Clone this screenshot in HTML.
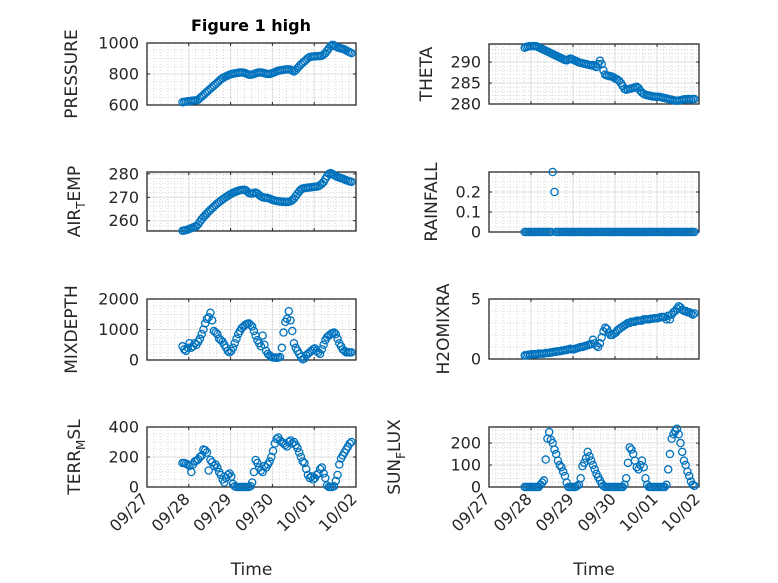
<!DOCTYPE html>
<html><head><meta charset="utf-8"><style>
html,body{margin:0;padding:0;background:#fff;}
svg{display:block;font-family:"DejaVu Sans","Liberation Sans",sans-serif;}
</style></head><body>
<svg id="fig" width="778" height="583" viewBox="0 0 778 583">
<rect x="0" y="0" width="778" height="583" fill="#fff"/>
<text x="251" y="31" text-anchor="middle" font-weight="bold" font-size="16" fill="#000">Figure 1 high</text>
</svg>
<script>
const xTickLabels = ["09/27","09/28","09/29","09/30","10/01","10/02"];
const pressure = [618,620,622,624,625,627,628,629,630,634,644,654,664,675,685,695,705,715,725,735,745,755,765,773,780,785,790,795,799,802,804,806,808,810,810,809,806,800,796,795,797,800,804,808,810,810,808,805,802,800,800,803,807,812,817,821,823,825,827,829,830,830,828,822,816,825,838,850,862,872,882,892,902,909,912,913,914,915,915,916,918,925,935,950,965,978,988,985,978,972,968,965,962,958,952,945,940,935];
const theta = [293.4,293.6,293.7,293.8,293.8,293.8,293.8,293.7,293.5,293.3,293.1,292.9,292.7,292.5,292.3,292.1,291.9,291.7,291.5,291.3,291.1,290.9,290.7,290.5,290.4,290.6,290.8,290.7,290.5,290.3,290.1,289.9,289.8,289.7,289.6,289.5,289.4,289.3,289.2,289.3,289.0,288.8,289.5,290.3,289.5,288.0,287.0,286.8,286.7,286.6,286.5,286.3,286.0,285.8,285.5,285.0,284.3,283.6,283.4,283.5,283.6,283.7,283.8,284.0,284.1,283.8,283.2,282.7,282.4,282.2,282.1,282.0,281.9,281.8,281.8,281.7,281.7,281.7,281.6,281.5,281.4,281.3,281.2,281.1,281.0,280.9,280.8,280.8,280.8,280.9,281.0,281.1,281.1,281.2,281.2,281.1,281.2,281.2];
const airTemp = [255.7,255.8,256.0,256.2,256.5,256.8,257.1,257.4,257.7,258.5,259.6,260.6,261.5,262.3,263.1,263.9,264.6,265.3,266.0,266.7,267.4,268.0,268.5,269.1,269.6,270.1,270.6,271.1,271.5,271.9,272.2,272.5,272.8,273.0,273.1,273.2,273.1,272.6,271.9,271.6,271.6,271.9,272.0,271.6,271.0,270.4,270.0,269.8,269.8,269.7,269.4,269.1,268.8,268.6,268.4,268.3,268.2,268.1,268.1,268.0,268.0,268.1,268.3,268.8,269.5,270.5,271.5,272.5,273.3,273.7,273.9,274.0,274.1,274.2,274.3,274.4,274.5,274.5,274.7,275.2,275.8,276.5,277.8,279.0,280.0,280.3,280.0,279.5,279.0,278.7,278.4,278.2,277.9,277.6,277.3,277.0,276.8,276.6];
const rainfall = [0,0,0,0,0,0,0,0,0,0,0,0,0,0,0,0,0.3,0.2,0,0,0,0,0,0,0,0,0,0,0,0,0,0,0,0,0,0,0,0,0,0,0,0,0,0,0,0,0,0,0,0,0,0,0,0,0,0,0,0,0,0,0,0,0,0,0,0,0,0,0,0,0,0,0,0,0,0,0,0,0,0,0,0,0,0,0,0,0,0,0,0,0,0,0,0,0,0,0,0];
const mixDepth = [450,350,300,400,550,400,450,550,500,600,700,850,1000,1200,1350,1400,1550,1300,950,900,850,700,650,600,500,400,300,250,300,400,550,700,850,950,1050,1100,1150,1180,1200,1150,1100,950,800,650,550,450,800,500,300,200,150,100,80,80,70,80,100,400,900,1250,1350,1600,1300,950,550,400,300,200,100,20,50,150,200,250,300,350,380,300,250,200,350,500,650,750,800,850,880,900,850,700,550,450,350,300,250,250,250,250];
const h2oMixRatio = [0.3,0.3,0.35,0.35,0.4,0.4,0.4,0.4,0.45,0.45,0.45,0.45,0.5,0.5,0.5,0.55,0.55,0.6,0.6,0.65,0.65,0.7,0.7,0.75,0.75,0.8,0.85,0.8,0.8,0.85,0.9,0.95,1.0,1.0,1.05,1.1,1.15,1.2,1.25,1.6,1.3,1.1,1.0,1.3,1.8,2.3,2.6,2.5,2.2,2.0,2.0,2.1,2.2,2.4,2.5,2.6,2.7,2.8,2.9,3.0,3.0,3.1,3.1,3.1,3.2,3.2,3.2,3.2,3.3,3.3,3.3,3.3,3.35,3.35,3.4,3.4,3.4,3.45,3.5,3.5,3.5,3.3,3.6,3.3,3.7,3.9,4.0,4.2,4.4,4.3,4.1,4.0,4.0,3.9,3.9,3.8,3.7,3.8];
const terrMsl = [160,160,155,150,140,100,150,170,175,185,200,210,250,245,230,110,180,165,140,150,130,100,80,50,30,60,80,90,70,20,5,0,0,0,0,0,0,0,0,5,30,100,180,160,130,110,100,140,130,150,170,200,240,290,320,330,310,300,290,280,270,300,310,290,300,280,260,230,200,170,160,120,80,60,70,50,60,80,90,120,130,90,60,10,0,0,0,5,40,80,150,190,210,230,250,270,290,300];
const sunFlux = [0,0,0,0,0,0,0,0,0,10,20,30,125,220,250,215,200,170,150,120,100,90,70,50,20,0,0,0,0,0,5,10,40,95,110,130,160,140,120,100,80,60,45,30,15,5,0,0,0,0,0,0,0,0,0,0,0,10,40,110,180,170,150,120,90,80,100,120,90,40,10,0,0,0,0,0,0,0,0,0,0,10,80,150,220,240,255,265,240,200,160,120,100,70,50,25,10,5];

const startDay = 0.85, stepDay = 1/24;
const NS = "http://www.w3.org/2000/svg";
const svg = document.getElementById('fig');
function mk(tag, attrs, parent){const e=document.createElementNS(NS,tag);for(const k in attrs)e.setAttribute(k,attrs[k]);(parent||svg).appendChild(e);return e;}

const panels = [
 {name:"pressure", data:pressure, x:147,y:43,w:209,h:62, ymin:600,ymax:1000, ticks:[600,800,1000], minor:50, label:["PRESSURE"], lx:77},
 {name:"air-temp", data:airTemp, x:147,y:172,w:209,h:59, ymin:255.6,ymax:280.8, ticks:[260,270,280], minor:2, label:["AIR","T","EMP"], lx:80},
 {name:"mixdepth", data:mixDepth, x:147,y:299,w:209,h:61, ymin:0,ymax:2000, ticks:[0,1000,2000], minor:250, label:["MIXDEPTH"], lx:77},
 {name:"terr-msl", data:terrMsl, x:147,y:427,w:209,h:60, ymin:0,ymax:400, ticks:[0,200,400], minor:50, label:["TERR","M","SL"], lx:80, xlabels:true},
 {name:"theta", data:theta, x:489,y:44,w:210,h:60, ymin:280,ymax:294.3, ticks:[280,285,290], minor:1, label:["THETA"], lx:432},
 {name:"rainfall", data:rainfall, x:489,y:172,w:210,h:60, ymin:0,ymax:0.3, ticks:[0,0.1,0.2], minor:0.025, label:["RAINFALL"], lx:437},
 {name:"h2omixra", data:h2oMixRatio, x:489,y:299,w:210,h:60, ymin:0,ymax:5, ticks:[0,5], minor:1, label:["H2OMIXRA"], lx:449},
 {name:"sun-flux", data:sunFlux, x:489,y:427,w:210,h:60, ymin:0,ymax:273, ticks:[0,100,200], minor:20, label:["SUN","F","LUX"], lx:400, xlabels:true}
];

panels.forEach(p=>{
 const g = mk('g',{});
 
 
 const xs = d => p.x + d/5*p.w;
 const ys = v => p.y + p.h - (v-p.ymin)/(p.ymax-p.ymin)*p.h;
 for(let d=0; d<=5.0001; d+=1/6){ if(Math.abs(d-Math.round(d))<1e-6) continue;
   const l=mk('line',{x1:xs(d),x2:xs(d),y1:p.y,y2:p.y+p.h,stroke:'#bbb','stroke-width':0.6,'stroke-dasharray':'1,2'},g);
     }
 const m0 = Math.ceil(p.ymin/p.minor)*p.minor;
 for(let v=m0; v<=p.ymax+1e-9; v+=p.minor){ if(p.ticks.some(t=>Math.abs(t-v)<1e-9)) continue;
   const l=mk('line',{x1:p.x,x2:p.x+p.w,y1:ys(v),y2:ys(v),stroke:'#bbb','stroke-width':0.6,'stroke-dasharray':'1,2'},g);
     }
 for(let i=1;i<5;i++){ const l=mk('line',{x1:xs(i),x2:xs(i),y1:p.y,y2:p.y+p.h,stroke:'#dedede','stroke-width':1},g);
     }
 p.ticks.forEach(t=>{ const l=mk('line',{x1:p.x,x2:p.x+p.w,y1:ys(t),y2:ys(t),stroke:'#dedede','stroke-width':1},g);
    
   const tk=mk('line',{x1:p.x,x2:p.x+3,y1:ys(t),y2:ys(t),stroke:'#262626','stroke-width':1},g);
    
   mk('line',{x1:p.x+p.w-3,x2:p.x+p.w,y1:ys(t),y2:ys(t),stroke:'#262626','stroke-width':1},g);
   const tx=mk('text',{x:p.x-8,y:ys(t)+5.5,'text-anchor':'end','font-size':16,fill:'#262626'},g);
   tx.textContent = String(t);
     });
 for(let i=0;i<=5;i++){
   const tk=mk('line',{x1:xs(i),x2:xs(i),y1:p.y+p.h,y2:p.y+p.h-3,stroke:'#262626','stroke-width':1},g);
    
   mk('line',{x1:xs(i),x2:xs(i),y1:p.y,y2:p.y+3,stroke:'#262626','stroke-width':1},g);
   if(p.xlabels){
     const tx=mk('text',{x:xs(i)+2,y:p.y+p.h+13,'text-anchor':'end','font-size':16,fill:'#262626',transform:`rotate(-45 ${xs(i)+2} ${p.y+p.h+13})`},g);
     tx.textContent = xTickLabels[i];
      
   }
 }
 const b=mk('rect',{x:p.x,y:p.y,width:p.w,height:p.h,fill:'none',stroke:'#262626','stroke-width':1.3},g);
  
 const sg = mk('g',{},g);
  
 p.data.forEach((v,i)=>{
   const c=mk('circle',{cx:xs(startDay+i*stepDay),cy:ys(v),r:3.6,fill:'none',stroke:'#0072BD','stroke-width':1.3},sg);
    
 });
 const cy = p.y+p.h/2;
 const lab=mk('text',{x:p.lx,y:cy,'text-anchor':'middle','font-size':17,fill:'#262626',transform:`rotate(-90 ${p.lx} ${cy})`},g);
  
 if(p.label.length===1){ lab.textContent=p.label[0]; }
 else {
   const a=mk('tspan',{},lab); a.textContent=p.label[0];
   const s=mk('tspan',{dy:5,'font-size':12},lab); s.textContent=p.label[1];
   const c=mk('tspan',{dy:-5},lab); c.textContent=p.label[2];
 }
 if(p.xlabels){
   const t=mk('text',{x:p.x+p.w/2,y:575,'text-anchor':'middle','font-size':17,fill:'#262626'},g);
   t.textContent='Time';
    
 }
});
</script>
</body></html>
